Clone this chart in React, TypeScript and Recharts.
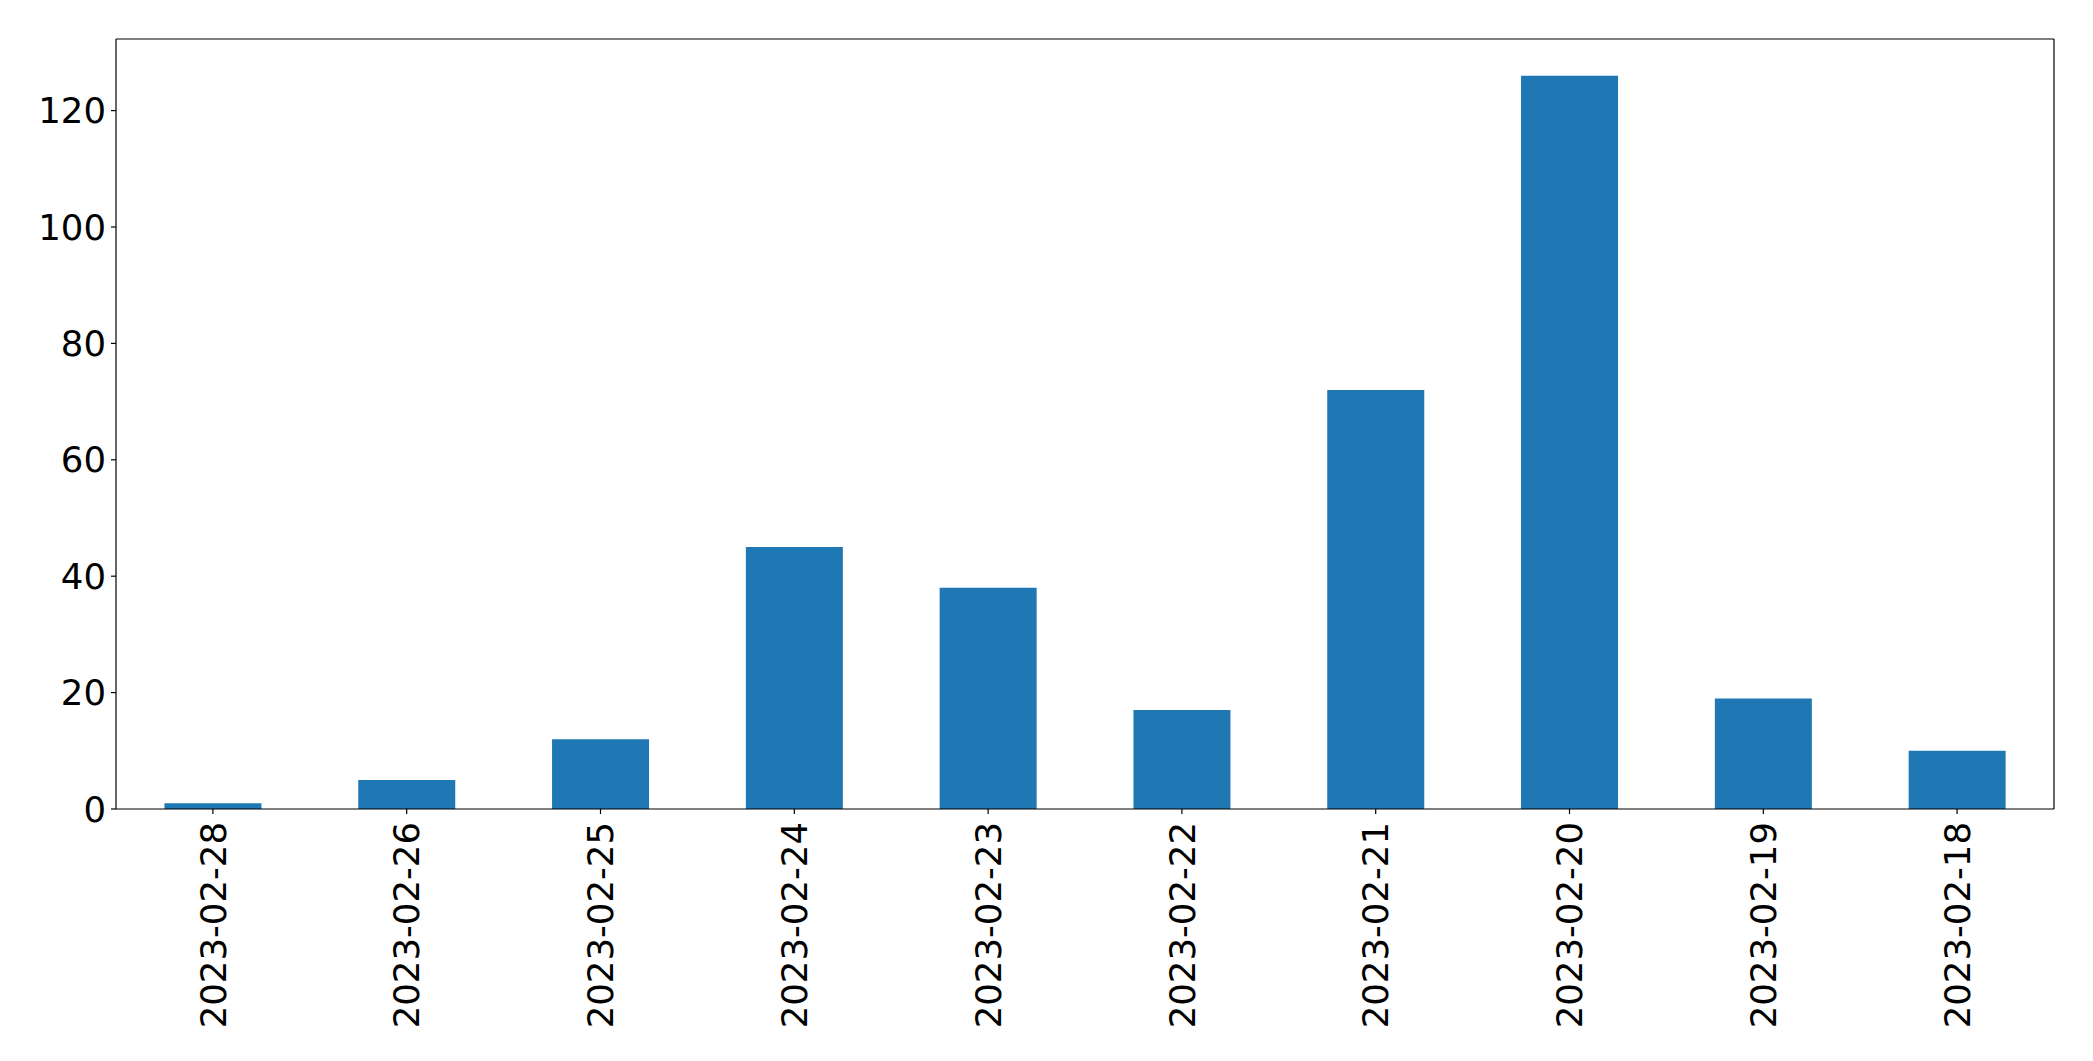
import { BarChart, Bar, XAxis, YAxis, CartesianGrid } from 'recharts'

const dates = [
  '2023-02-28', '2023-02-26', '2023-02-25', '2023-02-24', '2023-02-23',
  '2023-02-22', '2023-02-21', '2023-02-20', '2023-02-19', '2023-02-18',
]
const counts = [1, 5, 12, 45, 38, 17, 72, 126, 19, 10]
const yTicks = [0, 20, 40, 60, 80, 100, 120]

const data = dates.map((d, i) => ({ date: d, count: counts[i] }))

const FONT = '"DejaVu Sans", sans-serif'
const FS = 35.5

function DateTick({ x, y, payload }: { x?: number; y?: number; payload?: { value: string } }) {
  return (
    <g transform={`translate(${x},${y})`}>
      <text
        transform="rotate(-90)"
        textAnchor="end"
        dy="0.36em"
        fill="#000"
        fontSize={FS}
        fontFamily={FONT}
      >
        {payload?.value}
      </text>
    </g>
  )
}

export default function App() {
  return (
    <div style={{ position: 'fixed', left: 0, top: 0, width: 2093, height: 1061, background: '#fff' }}>
      <BarChart
        width={2093}
        height={1061}
        data={data}
        barCategoryGap="25%"
        margin={{ top: 39, right: 39, left: 0, bottom: 0 }}
      >
        {/* frame: top and right spines */}
        <CartesianGrid
          stroke="#000"
          strokeWidth={1.2}
          horizontalCoordinatesGenerator={({ offset }: any) => [offset.top]}
          verticalCoordinatesGenerator={({ offset }: any) => [offset.left + offset.width]}
        />
        <XAxis
          dataKey="date"
          height={252}
          interval={0}
          tick={<DateTick />}
          tickSize={5}
          tickMargin={8}
          tickLine={{ stroke: '#000', strokeWidth: 1.2 }}
          axisLine={{ stroke: '#000', strokeWidth: 1.2 }}
        />
        <YAxis
          width={116}
          domain={[0, 132.3]}
          ticks={yTicks}
          tickSize={5}
          tickMargin={5}
          tick={{ fill: '#000', fontSize: FS, fontFamily: FONT }}
          tickLine={{ stroke: '#000', strokeWidth: 1.2 }}
          axisLine={{ stroke: '#000', strokeWidth: 1.2 }}
        />
        <Bar dataKey="count" fill="#1f77b4" isAnimationActive={false} />
      </BarChart>
    </div>
  )
}
